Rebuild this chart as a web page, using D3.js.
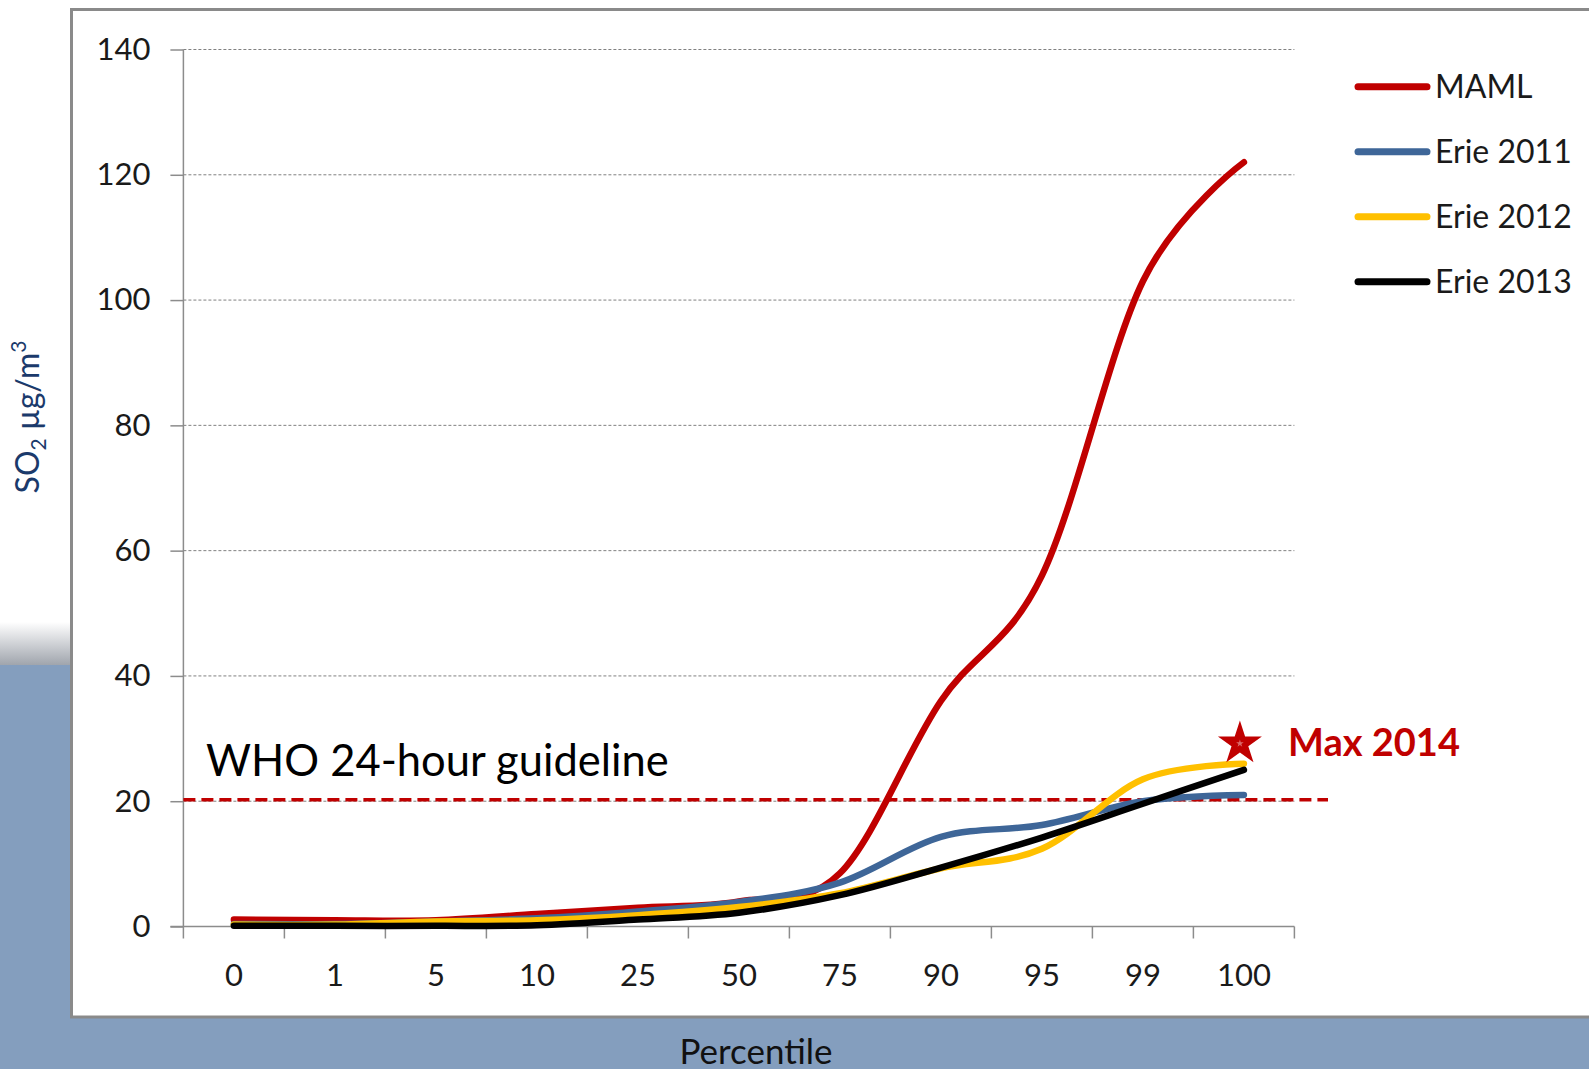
<!DOCTYPE html>
<meta charset="utf-8">
<script src="https://d3js.org/d3.v7.min.js"></script>
<style>
  body { margin: 0; background: #fff; }
  svg { display: block; font-family: Lato, "Open Sans", sans-serif; }
</style>
<div id="chart"></div>
<script>
// percentile categories on the x axis
const categories = ["0", "1", "5", "10", "25", "50", "75", "90", "95", "99", "100"];
const yTicks = [0, 20, 40, 60, 80, 100, 120, 140];

// SO2 concentration at each percentile (ug/m3)
const maml     = [1.1, 1.0, 1.0, 2.0, 3.0, 4.0, 8.5, 36, 56, 103, 122];
const erie2011 = [0.4, 0.4, 0.8, 1.3, 2.4, 3.9, 7.0, 14.3, 16.2, 20.0, 21.0];
const erie2012 = [0.3, 0.3, 0.8, 1.0, 1.8, 3.1, 5.3, 9.3, 12.4, 23.5, 26.0];
const erie2013 = [0.1, 0.1, 0.1, 0.2, 1.1, 2.2, 5.0, 9.4, 14.2, 19.6, 25.0];

const seriesNames = ["MAML", "Erie 2011", "Erie 2012", "Erie 2013"];
const seriesColors = ["#c00000", "#3e6698", "#ffc000", "#000000"];
const whoGuideline = 20;
const max2014 = 29.2;

const series = [maml, erie2011, erie2012, erie2013].map((vals, i) => ({
  name: seriesNames[i],
  color: seriesColors[i],
  values: vals.map((v, j) => ({cat: categories[j], v: v}))
}));

const W = 1589, H = 1069;
const svg = d3.select("#chart").append("svg")
  .attr("width", W).attr("height", H);

// slide background: blue band bottom-left with a soft shadow edge
const defs = svg.append("defs");
const grad = defs.append("linearGradient").attr("id", "shade")
  .attr("x1", 0).attr("y1", 0).attr("x2", 0).attr("y2", 1);
grad.append("stop").attr("offset", "0%").attr("stop-color", "#ffffff");
grad.append("stop").attr("offset", "100%").attr("stop-color", "#a0a5ad");

svg.append("rect").attr("x", 0).attr("y", 0).attr("width", W).attr("height", H).attr("fill", "#fff");
svg.append("rect").attr("x", 0).attr("y", 622).attr("width", 72).attr("height", 43).attr("fill", "url(#shade)");
svg.append("rect").attr("x", 0).attr("y", 665).attr("width", 72).attr("height", H - 665).attr("fill", "#849ebe");
svg.append("rect").attr("x", 0).attr("y", 1017).attr("width", W).attr("height", H - 1017).attr("fill", "#849ebe");

// chart box
svg.append("rect")
  .attr("x", 71.5).attr("y", 9.5).attr("width", 1700).attr("height", 1007.5)
  .attr("fill", "#fff").attr("stroke", "#8a8a8a").attr("stroke-width", 3);

const x = d3.scaleBand().domain(categories).range([183.4, 1294.4]).padding(0);
const y = d3.scaleLinear().domain([0, 140]).range([926.5, 49.5]);
const cx = d => x(d) + x.bandwidth() / 2;

// horizontal dashed gridlines
svg.append("g").selectAll("line")
  .data(yTicks.filter(t => t > 0))
  .join("line")
    .attr("x1", x.range()[0]).attr("x2", x.range()[1])
    .attr("y1", d => y(d)).attr("y2", d => y(d))
    .attr("stroke", "#808080").attr("stroke-width", 1)
    .attr("stroke-dasharray", "3,2");

// y axis
const yAxis = svg.append("g")
  .attr("transform", "translate(" + x.range()[0] + ",0)")
  .call(d3.axisLeft(y).tickValues(yTicks).tickSize(13).tickPadding(20));
yAxis.select(".domain").attr("stroke", "#8c8c8c").attr("stroke-width", 1.5)
  .attr("d", "M0," + y(0) + "V" + y(140));
yAxis.selectAll(".tick line").attr("stroke", "#8c8c8c").attr("stroke-width", 1.5);
yAxis.selectAll(".tick text")
  .attr("font-family", "Lato").attr("font-size", 31).attr("fill", "#1a1a1a");

// x axis: line, ticks between categories, labels centred
const xg = svg.append("g");
xg.append("line")
  .attr("x1", x.range()[0] - 13).attr("x2", x.range()[1])
  .attr("y1", y(0)).attr("y2", y(0))
  .attr("stroke", "#8c8c8c").attr("stroke-width", 1.5);
xg.selectAll(".xt")
  .data(d3.range(categories.length + 1))
  .join("line").attr("class", "xt")
    .attr("x1", i => x.range()[0] + i * x.step())
    .attr("x2", i => x.range()[0] + i * x.step())
    .attr("y1", y(0)).attr("y2", y(0) + 12)
    .attr("stroke", "#8c8c8c").attr("stroke-width", 1.5);
xg.selectAll(".xl")
  .data(categories)
  .join("text").attr("class", "xl")
    .attr("x", d => cx(d)).attr("y", 986)
    .attr("text-anchor", "middle")
    .attr("font-size", 31).attr("fill", "#1a1a1a")
    .text(d => d);

// WHO guideline
svg.append("line")
  .attr("x1", x.range()[0]).attr("x2", 1328)
  .attr("y1", y(whoGuideline) - 1.5).attr("y2", y(whoGuideline) - 1.5)
  .attr("stroke", "#c00000").attr("stroke-width", 3.5)
  .attr("stroke-dasharray", "12,6");
svg.append("text")
  .attr("x", 206).attr("y", 776)
  .attr("font-size", 43.5).attr("fill", "#000")
  .text("WHO 24-hour guideline");

// series lines
const line = d3.line()
  .x(d => cx(d.cat))
  .y(d => y(d.v))
  .curve(d3.curveCardinal.tension(0));

svg.append("g").selectAll("path")
  .data(series)
  .join("path")
    .attr("d", d => line(d.values))
    .attr("fill", "none")
    .attr("stroke", d => d.color)
    .attr("stroke-width", 6.5)
    .attr("stroke-linecap", "round")
    .attr("stroke-linejoin", "round");

// Max 2014 star
const star = d3.symbol().type(d3.symbolStar);
const sx = cx("100") - 4, sy = y(max2014);
svg.append("path")
  .attr("transform", "translate(" + sx + "," + sy + ")")
  .attr("d", star.size(600)())
  .attr("fill", "#c00000");
svg.append("path")
  .attr("transform", "translate(" + sx + "," + sy + ")")
  .attr("d", star.size(18)())
  .attr("fill", "#d96a6a");
svg.append("text")
  .attr("x", 1288).attr("y", 756)
  .attr("font-size", 38).attr("font-weight", "bold").attr("fill", "#c00000")
  .text("Max 2014");

// legend
const leg = svg.append("g").selectAll("g")
  .data(series)
  .join("g")
    .attr("transform", (d, i) => "translate(0," + (86.7 + i * 65) + ")");
leg.append("line")
  .attr("x1", 1358).attr("x2", 1427)
  .attr("stroke", d => d.color).attr("stroke-width", 7)
  .attr("stroke-linecap", "round");
leg.append("text")
  .attr("x", 1435).attr("y", 11)
  .attr("font-size", 32).attr("fill", "#1a1a1a")
  .text(d => d.name);

// axis titles
const yt = svg.append("text")
  .attr("transform", "translate(39,417) rotate(-90)")
  .attr("text-anchor", "middle")
  .attr("font-size", 32).attr("fill", "#1b3a6b");
yt.append("tspan").text("SO");
yt.append("tspan").attr("font-size", 21).attr("dy", 7).text("2");
yt.append("tspan").attr("dy", -7).text(" \u00b5g/m");
yt.append("tspan").attr("font-size", 21).attr("dy", -13).text("3");

svg.append("text")
  .attr("x", 756).attr("y", 1064)
  .attr("text-anchor", "middle")
  .attr("font-size", 35).attr("fill", "#111")
  .text("Percentile");
</script>
